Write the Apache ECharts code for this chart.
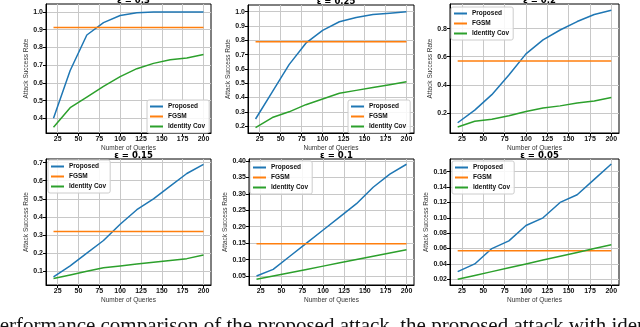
<!DOCTYPE html>
<html><head><meta charset="utf-8">
<script src="https://cdn.jsdelivr.net/npm/echarts@6/dist/echarts.min.js"></script>
<style>html,body{margin:0;padding:0;background:#fff}#c{width:640px;height:327px}</style>
</head><body><div id="c"></div>
<script>
const queries = [20,40,60,80,100,120,140,160,180,200];
const xTicks = [25,50,75,100,125,150,175,200];
const titles = ['ε = 0.3','ε = 0.25','ε = 0.2','ε = 0.15','ε = 0.1','ε = 0.05'];

const proposed03 = [0.40,0.67,0.87,0.94,0.98,0.995,1.0,1.0,1.0,1.0];
const fgsm03 = 0.913;
const identity03 = [0.35,0.46,0.52,0.58,0.635,0.68,0.71,0.73,0.74,0.76];

const proposed025 = [0.25,0.44,0.63,0.78,0.87,0.93,0.96,0.98,0.99,1.0];
const fgsm025 = 0.79;
const identity025 = [0.19,0.26,0.30,0.35,0.39,0.43,0.45,0.47,0.49,0.51];

const proposed02 = [0.13,0.22,0.33,0.47,0.62,0.72,0.79,0.85,0.90,0.93];
const fgsm02 = 0.57;
const identity02 = [0.10,0.14,0.155,0.18,0.21,0.235,0.25,0.27,0.285,0.31];

const proposed015 = [0.07,0.13,0.20,0.27,0.36,0.44,0.50,0.57,0.64,0.69];
const fgsm015 = 0.32;
const identity015 = [0.06,0.08,0.10,0.12,0.13,0.14,0.15,0.16,0.17,0.19];

const proposed01 = [0.05,0.07,0.11,0.15,0.19,0.23,0.27,0.32,0.36,0.39];
const fgsm01 = 0.148;
const identity01 = [0.04,0.05,0.06,0.07,0.08,0.09,0.10,0.11,0.12,0.13];

const proposed005 = [0.03,0.04,0.06,0.07,0.09,0.10,0.12,0.13,0.15,0.17];
const fgsm005 = 0.057;
const identity005 = [0.02,0.025,0.03,0.035,0.04,0.045,0.05,0.055,0.06,0.065];

const yTicks03 = [0.4,0.5,0.6,0.7,0.8,0.9,1.0];
const yTicks025 = [0.2,0.3,0.4,0.5,0.6,0.7,0.8,0.9,1.0];
const yTicks02 = [0.2,0.4,0.6,0.8];
const yTicks015 = [0.1,0.2,0.3,0.4,0.5,0.6,0.7];
const yTicks01 = [0.05,0.10,0.15,0.20,0.25,0.30,0.35,0.40];
const yTicks005 = [0.02,0.04,0.06,0.08,0.10,0.12,0.14,0.16];

const caption = 'Performance comparison of the proposed attack, the proposed attack with identity covariance';

const panels = [
  {p: proposed03, f: fgsm03, i: identity03, t: yTicks03, dec: 1, ymin: 0.317, ymax: 1.045,
   grid: {left: 46, top: 4, width: 165, height: 129}, legend: {left: 147, top: 100}},
  {p: proposed025, f: fgsm025, i: identity025, t: yTicks025, dec: 1, ymin: 0.152, ymax: 1.047,
   grid: {left: 248, top: 5, width: 166, height: 128}, legend: {left: 348, top: 100}},
  {p: proposed02, f: fgsm02, i: identity02, t: yTicks02, dec: 1, ymin: 0.057, ymax: 0.975,
   grid: {left: 450, top: 4, width: 169, height: 129}, legend: {left: 451, top: 7}},
  {p: proposed015, f: fgsm015, i: identity015, t: yTicks015, dec: 1, ymin: 0.0245, ymax: 0.72,
   grid: {left: 46, top: 159, width: 165, height: 126}, legend: {left: 48, top: 160}},
  {p: proposed01, f: fgsm01, i: identity01, t: yTicks01, dec: 2, ymin: 0.0226, ymax: 0.406,
   grid: {left: 249, top: 159, width: 165, height: 126}, legend: {left: 250, top: 161}},
  {p: proposed005, f: fgsm005, i: identity005, t: yTicks005, dec: 2, ymin: 0.0126, ymax: 0.1765,
   grid: {left: 450, top: 159, width: 169, height: 126}, legend: {left: 452, top: 161}}
];

const colors = {Proposed: '#1f77b4', FGSM: '#ff7f0e', 'Identity Cov': '#2ca02c'};
const tickFont = {fontFamily: 'Liberation Sans', fontSize: 7, fontWeight: 'bold', color: '#111'};
const nameFont = {fontFamily: 'Liberation Sans', fontSize: 6.5, color: '#333'};

const option = {
  animation: false,
  backgroundColor: '#fff',
  grid: [], xAxis: [], yAxis: [], series: [], title: [], legend: [],
  graphic: [{
    type: 'text', left: -12, top: 316,
    style: {text: caption, font: '21px "Liberation Serif"', fill: '#111'}
  }]
};

panels.forEach((pn, k) => {
  const g = pn.grid;
  option.grid.push(Object.assign({show: true, borderColor: '#000', borderWidth: 1, backgroundColor: '#fff'}, g));
  option.xAxis.push({
    type: 'value', gridIndex: k, min: 11, max: 209,
    name: 'Number of Queries', nameLocation: 'middle', nameGap: 12, nameTextStyle: nameFont,
    axisLine: {show: true, lineStyle: {color: '#000', width: 1}},
    axisTick: {show: true, length: 3, lineStyle: {color: '#000'}, customValues: xTicks},
    axisLabel: Object.assign({margin: 3, customValues: xTicks}, tickFont),
    splitLine: {show: true, lineStyle: {color: '#c8c8c8', width: 1}}
  });
  option.yAxis.push({
    type: 'value', gridIndex: k, min: pn.ymin, max: pn.ymax,
    name: 'Attack Success Rate', nameLocation: 'middle', nameGap: pn.dec === 2 ? 19 : 14, nameTextStyle: nameFont,
    axisLine: {show: true, lineStyle: {color: '#000', width: 1}},
    axisTick: {show: true, length: 3, lineStyle: {color: '#000'}, customValues: pn.t},
    axisLabel: Object.assign({margin: 3, customValues: pn.t, formatter: v => v.toFixed(pn.dec)}, tickFont),
    splitLine: {show: true, lineStyle: {color: '#c8c8c8', width: 1}}
  });
  option.title.push({
    text: titles[k], left: g.left + g.width / 2, top: g.top - 13, textAlign: 'center',
    textStyle: {fontFamily: 'DejaVu Sans', fontSize: 8.5, fontWeight: 'bold', color: '#000'}
  });
  option.legend.push({
    left: pn.legend.left, top: pn.legend.top, orient: 'vertical',
    data: ['Proposed', 'FGSM', 'Identity Cov'],
    icon: 'rect', itemWidth: 13, itemHeight: 2, itemGap: 3,
    backgroundColor: 'rgba(255,255,255,0.85)', borderColor: '#cccccc', borderWidth: 1, borderRadius: 2,
    padding: [3, 4, 3, 3],
    textStyle: {fontFamily: 'Liberation Sans', fontSize: 6.5, fontWeight: 'bold', color: '#111'}
  });
  const mk = (name, vals) => ({
    name, type: 'line', xAxisIndex: k, yAxisIndex: k,
    data: queries.map((q, j) => [q, Array.isArray(vals) ? vals[j] : vals]),
    showSymbol: false, symbol: 'none', lineStyle: {width: 1.5, color: colors[name]},
    itemStyle: {color: colors[name]}, z: 3
  });
  option.series.push(mk('Proposed', pn.p), mk('FGSM', pn.f), mk('Identity Cov', pn.i));
});

const chart = echarts.init(document.getElementById('c'), null, {renderer: 'canvas'});
chart.setOption(option);
</script></body></html>
